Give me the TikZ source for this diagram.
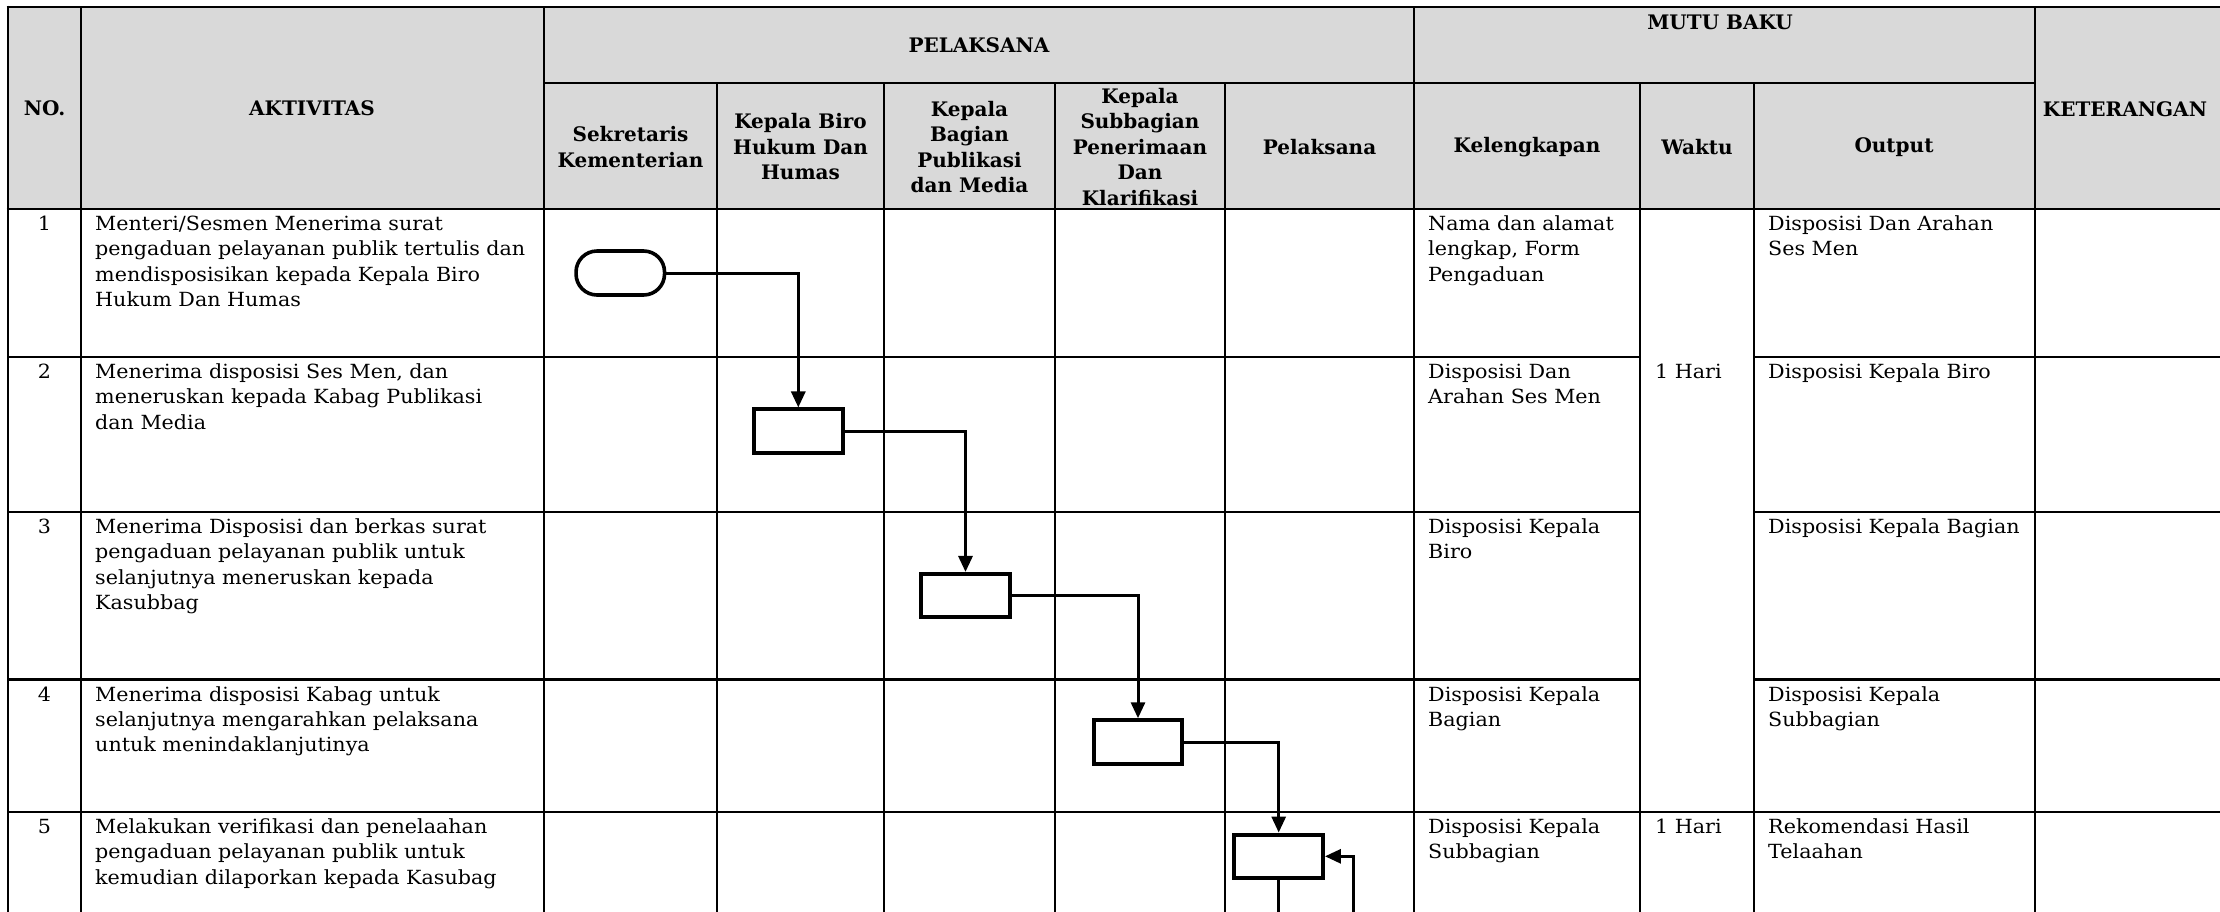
\documentclass[tikz,border=0pt]{standalone}
\usepackage{fontspec}
\setmainfont{DejaVu Serif}[FakeStretch=1.06]
\newfontfamily\hdfont{DejaVu Serif}
\usetikzlibrary{arrows.meta}
\definecolor{hdgray}{RGB}{217,217,217}
\begin{document}
\begin{tikzpicture}[x=1pt,y=-1pt,
  body/.style={anchor=base west, inner sep=0pt, text width=470pt, align=left,
    font=\fontsize{19.5}{25.3}\selectfont},
  num/.style={anchor=base, inner sep=0pt, font=\fontsize{19.5}{25.3}\selectfont},
  hd/.style={inner sep=0pt, align=center, font=\hdfont\bfseries\fontsize{20}{25.5}\selectfont},
  outerline/.style={line width=2.8pt},
  rowline/.style={line width=2.3pt},
  colline/.style={line width=2.1pt},
  laneline/.style={line width=1.7pt},
  proc/.style={draw, line width=4pt, minimum width=88.5pt, minimum height=43.5pt, inner sep=0pt, fill=white},
  term/.style={draw, line width=3.6pt, rounded corners=21pt, minimum width=88.5pt, minimum height=44pt, inner sep=0pt, fill=white},
  flow/.style={line width=3pt, -{Triangle[length=16pt,width=14pt]}},
  plain/.style={line width=3pt},
]
\useasboundingbox (0,0) rectangle (2220,911);
% header background
\fill[hdgray] (8,7) rectangle (2222,209);
% horizontal lines
\draw[outerline] (6.6,7) -- (2222,7);
\draw[rowline] (544,83) -- (2035,83);
\draw[outerline] (6.6,209) -- (2222,209);
\foreach \yy in {357,512,679.5}{
  \draw[rowline] (8,\yy) -- (1640,\yy);
  \draw[rowline] (1753.6,\yy) -- (2222,\yy);
}
\draw[rowline] (8,812) -- (2222,812);
% vertical lines
\draw[outerline] (8,5.6) -- (8,913);
\foreach \xx in {81,544,1414,2035}{
  \draw[colline] (\xx,7) -- (\xx,913);
}
\foreach \xx in {1640,1753.6}{
  \draw[colline] (\xx,83) -- (\xx,913);
}
\foreach \xx in {717,884,1055,1225}{
  \draw[laneline] (\xx,83) -- (\xx,913);
}
% header texts
\node[hd] (hno) at (44.5,108) {NO.};
\node[hd] (hakt) at (312,108) {AKTIVITAS};
\node[hd] (hpel) at (979,45) {PELAKSANA};
\node[hd, anchor=base] (hmutu) at (1720,29) {MUTU BAKU};
\node[hd] (hket) at (2125,109) {KETERANGAN};
\node[hd] (hsek) at (630.5,147) {Sekretaris\\Kementerian};
\node[hd] (hbiro) at (800.5,147) {Kepala Biro\\Hukum Dan\\Humas};
\node[hd] (hbag) at (969.5,147) {Kepala\\Bagian\\Publikasi\\dan Media};
\node[hd] (hsub) at (1140,147) {Kepala\\Subbagian\\Penerimaan\\Dan\\Klarifikasi};
\node[hd] (hpl) at (1319.5,147) {Pelaksana};
\node[hd] (hkel) at (1527,147) {Kelengkapan};
\node[hd] (hwak) at (1697,147) {Waktu};
\node[hd] (hout) at (1894,147) {Output};
% row 1
\node[num] (n1) at (44.5,230.5) {1};
\node[body] (a1) at (95,230.5) {Menteri/Sesmen Menerima surat\\pengaduan pelayanan publik tertulis dan\\mendisposisikan kepada Kepala Biro\\Hukum Dan Humas};
\node[body] (k1) at (1428,230.5) {Nama dan alamat\\lengkap, Form\\Pengaduan};
\node[body] (o1) at (1768,230.5) {Disposisi Dan Arahan\\Ses Men};
% row 2
\node[num] (n2) at (44.5,378.5) {2};
\node[body] (a2) at (95,378.5) {Menerima disposisi Ses Men, dan\\meneruskan kepada Kabag Publikasi\\dan Media};
\node[body] (k2) at (1428,378.5) {Disposisi Dan\\Arahan Ses Men};
\node[body] (w1) at (1655,378.5) {1 Hari};
\node[body] (o2) at (1768,378.5) {Disposisi Kepala Biro};
% row 3
\node[num] (n3) at (44.5,533.5) {3};
\node[body] (a3) at (95,533.5) {Menerima Disposisi dan berkas surat\\pengaduan pelayanan publik untuk\\selanjutnya meneruskan kepada\\Kasubbag};
\node[body] (k3) at (1428,533.5) {Disposisi Kepala\\Biro};
\node[body] (o3) at (1768,533.5) {Disposisi Kepala Bagian};
% row 4
\node[num] (n4) at (44.5,701) {4};
\node[body] (a4) at (95,701) {Menerima disposisi Kabag untuk\\selanjutnya mengarahkan pelaksana\\untuk menindaklanjutinya};
\node[body] (k4) at (1428,701) {Disposisi Kepala\\Bagian};
\node[body] (o4) at (1768,701) {Disposisi Kepala\\Subbagian};
% row 5
\node[num] (n5) at (44.5,833.5) {5};
\node[body] (a5) at (95,833.5) {Melakukan verifikasi dan penelaahan\\pengaduan pelayanan publik untuk\\kemudian dilaporkan kepada Kasubag};
\node[body] (k5) at (1428,833.5) {Disposisi Kepala\\Subbagian};
\node[body] (w2) at (1655,833.5) {1 Hari};
\node[body] (o5) at (1768,833.5) {Rekomendasi Hasil\\Telaahan};
% flow shapes
\node[term] (t1) at (620.3,273) {};
\node[proc] (b2) at (798.3,431.2) {};
\node[proc] (b3) at (965.5,595.7) {};
\node[proc] (b4) at (1138,742) {};
\node[proc] (b5) at (1278.7,856.3) {};
\coordinate (endA) at (1278.7,916);
\coordinate (loopA) at (1353,916);
% connectors
\draw[flow] (t1.east) -| (b2.north);
\draw[flow] (b2.east) -| (b3.north);
\draw[flow] (b3.east) -| (b4.north);
\draw[flow] (b4.east) -| (b5.north);
\draw[plain] (b5.south) -- (endA);
\draw[flow] (loopA) |- (b5.east);
\end{tikzpicture}
\end{document}
